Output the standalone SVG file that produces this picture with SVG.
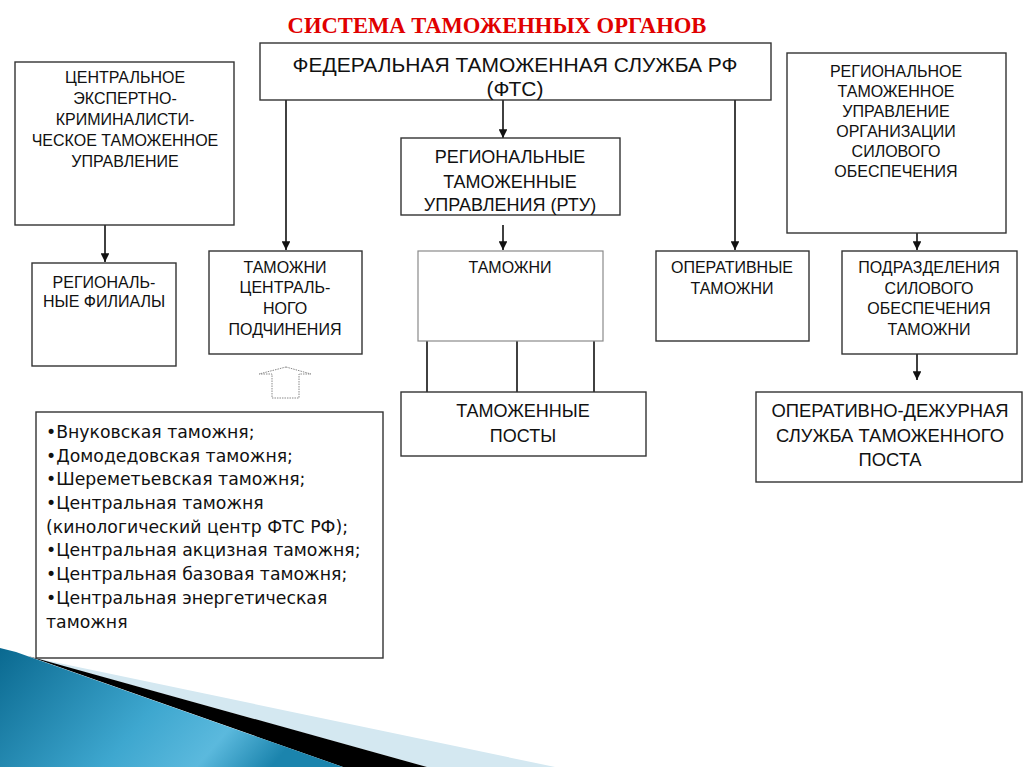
<svg xmlns="http://www.w3.org/2000/svg" width="1024" height="767" viewBox="0 0 1024 767">
<defs>
<style>
.box{fill:#fff;stroke:#333;stroke-width:1.4}
.lbox{fill:#fff;stroke:#8a8a8a;stroke-width:1.2}
.t{font-family:"Liberation Sans",Arial,sans-serif;font-size:16px;fill:#111;text-anchor:middle}
.tb{font-family:"Liberation Sans",Arial,sans-serif;font-size:18px;fill:#111;text-anchor:middle}
.tl{font-family:"DejaVu Sans","Liberation Sans",sans-serif;font-size:17.3px;fill:#111}
.c{stroke:#111;stroke-width:1.6;fill:none}
.ca{stroke:#111;stroke-width:1.6;fill:none;marker-end:url(#ah)}
</style>
<marker id="ah" viewBox="0 0 10 10" refX="10" refY="5" markerWidth="5.5" markerHeight="5.5" orient="auto" markerUnits="strokeWidth">
<path d="M0,0 L10,5 L0,10 z" fill="#111"/>
</marker>
<linearGradient id="bg" x1="0" y1="0" x2="1" y2="0.3">
<stop offset="0" stop-color="#0a6990"/>
<stop offset="0.55" stop-color="#3ea7cf"/>
<stop offset="0.8" stop-color="#5bb9dd"/>
<stop offset="1" stop-color="#1b84ad"/>
</linearGradient>
</defs>
<rect width="1024" height="767" fill="#fff"/>
<g id="decor">
<polygon points="30,657 555,767 427,767" fill="#d4e8f1"/>
<polygon points="28,656 427,767 343,767" fill="#000"/>
<path d="M0,648 Q15,651 30,657 L343,767 L0,767 z" fill="url(#bg)"/>
</g>
<text x="497" y="33" font-family="Liberation Serif,'Times New Roman',serif" font-weight="bold" font-size="22.6" fill="#e00000" text-anchor="middle">СИСТЕМА ТАМОЖЕННЫХ ОРГАНОВ</text>
<g id="connectors">
<line class="ca" x1="105" y1="225" x2="105" y2="262"/>
<line class="ca" x1="286" y1="100" x2="286" y2="250"/>
<line class="ca" x1="503" y1="100" x2="503" y2="138"/>
<line class="ca" x1="503" y1="225" x2="503" y2="250"/>
<line class="ca" x1="735" y1="100" x2="735" y2="250"/>
<line class="ca" x1="917" y1="233" x2="917" y2="250"/>
<line class="ca" x1="917" y1="354" x2="917" y2="380"/>
<line class="c" x1="427" y1="341" x2="427" y2="392"/>
<line class="c" x1="517" y1="341" x2="517" y2="392"/>
<line class="c" x1="594" y1="341" x2="594" y2="392"/>
<path d="M286,367 L311,374 L299,374 L299,398 L272,398 L272,374 L259,374 z" fill="none" stroke="#888" stroke-width="1" stroke-dasharray="1.5,1"/>
</g>
<g id="fts">
<rect class="box" x="260" y="43" width="511" height="57"/>
<text class="t" style="font-size:21px" x="515" y="72">ФЕДЕРАЛЬНАЯ ТАМОЖЕННАЯ СЛУЖБА РФ</text>
<text class="t" style="font-size:21px" x="515" y="96">(ФТС)</text>
</g>
<g id="ceku">
<rect class="box" x="15" y="62" width="219" height="163"/>
<text class="t" x="125" y="83">ЦЕНТРАЛЬНОЕ</text>
<text class="t" x="125" y="104">ЭКСПЕРТНО-</text>
<text class="t" x="125" y="125">КРИМИНАЛИСТИ-</text>
<text class="t" x="125" y="146">ЧЕСКОЕ ТАМОЖЕННОЕ</text>
<text class="t" x="125" y="167">УПРАВЛЕНИЕ</text>
</g>
<g id="filials">
<rect class="box" x="32" y="263" width="144" height="103"/>
<text class="t" x="104" y="288">РЕГИОНАЛЬ-</text>
<text class="t" x="104" y="307">НЫЕ ФИЛИАЛЫ</text>
</g>
<g id="tcp">
<rect class="box" x="209" y="251" width="153" height="103"/>
<text class="t" x="285" y="273">ТАМОЖНИ</text>
<text class="t" x="285" y="293">ЦЕНТРАЛЬ-</text>
<text class="t" x="285" y="314">НОГО</text>
<text class="t" x="285" y="335">ПОДЧИНЕНИЯ</text>
</g>
<g id="rtu">
<rect class="box" x="401" y="138" width="219" height="77"/>
<text class="tb" x="510" y="163">РЕГИОНАЛЬНЫЕ</text>
<text class="tb" x="510" y="188">ТАМОЖЕННЫЕ</text>
<text class="tb" x="510" y="211">УПРАВЛЕНИЯ (РТУ)</text>
</g>
<g id="customs">
<rect class="lbox" x="418" y="251" width="185" height="90"/>
<text class="t" x="510" y="273">ТАМОЖНИ</text>
</g>
<g id="posts">
<rect class="box" x="401" y="392" width="245" height="64"/>
<text class="tb" x="523" y="417">ТАМОЖЕННЫЕ</text>
<text class="tb" x="523" y="442">ПОСТЫ</text>
</g>
<g id="operative">
<rect class="box" x="656" y="251" width="153" height="90"/>
<text class="t" x="732" y="273">ОПЕРАТИВНЫЕ</text>
<text class="t" x="732" y="294">ТАМОЖНИ</text>
</g>
<g id="rtuso">
<rect class="box" x="787" y="53" width="219" height="180"/>
<text class="t" x="896" y="77">РЕГИОНАЛЬНОЕ</text>
<text class="t" x="896" y="97">ТАМОЖЕННОЕ</text>
<text class="t" x="896" y="117">УПРАВЛЕНИЕ</text>
<text class="t" x="896" y="137">ОРГАНИЗАЦИИ</text>
<text class="t" x="896" y="157">СИЛОВОГО</text>
<text class="t" x="896" y="177">ОБЕСПЕЧЕНИЯ</text>
</g>
<g id="force">
<rect class="box" x="842" y="251" width="175" height="103"/>
<text class="t" x="929" y="273">ПОДРАЗДЕЛЕНИЯ</text>
<text class="t" x="929" y="294">СИЛОВОГО</text>
<text class="t" x="929" y="314">ОБЕСПЕЧЕНИЯ</text>
<text class="t" x="929" y="335">ТАМОЖНИ</text>
</g>
<g id="duty">
<rect class="box" x="756" y="392" width="266" height="90"/>
<text class="tb" style="font-size:18.4px" x="890" y="417">ОПЕРАТИВНО-ДЕЖУРНАЯ</text>
<text class="tb" style="font-size:18.4px" x="890" y="442">СЛУЖБА ТАМОЖЕННОГО</text>
<text class="tb" style="font-size:18.4px" x="890" y="466">ПОСТА</text>
</g>
<g id="list">
<rect class="box" x="36" y="412" width="347" height="246"/>
<text class="tl" x="46" y="438">•Внуковская таможня;</text>
<text class="tl" x="46" y="462">•Домодедовская таможня;</text>
<text class="tl" x="46" y="485">•Шереметьевская таможня;</text>
<text class="tl" x="46" y="509">•Центральная таможня</text>
<text class="tl" x="46" y="533">(кинологический центр ФТС РФ);</text>
<text class="tl" x="46" y="556">•Центральная акцизная таможня;</text>
<text class="tl" x="46" y="580">•Центральная базовая таможня;</text>
<text class="tl" x="46" y="604">•Центральная энергетическая</text>
<text class="tl" x="46" y="628">таможня</text>
</g>
</svg>
